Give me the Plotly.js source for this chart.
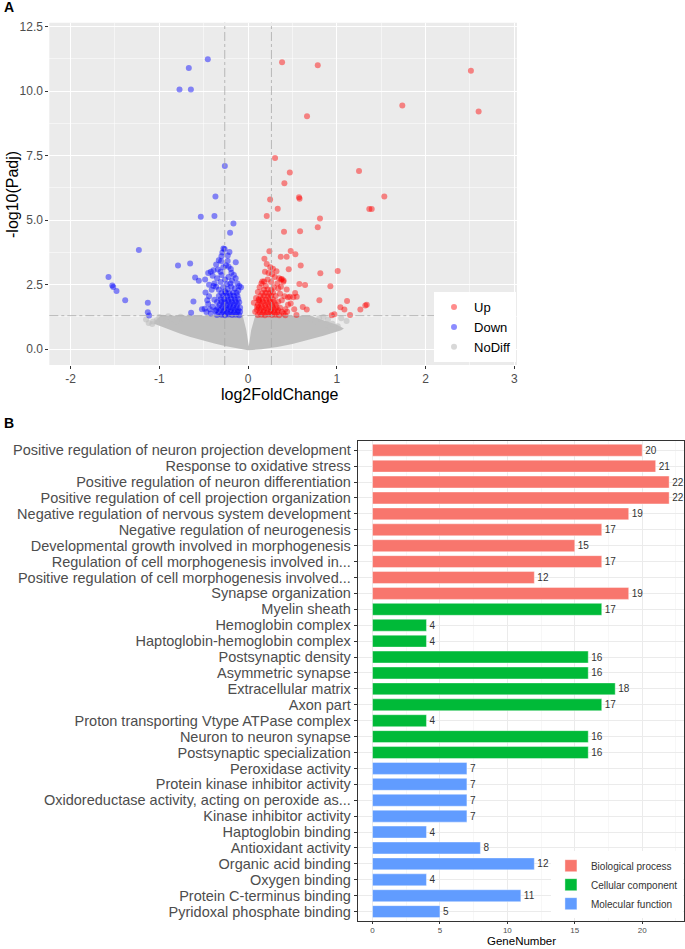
<!DOCTYPE html>
<html>
<head>
<meta charset="utf-8">
<script src="https://cdn.plot.ly/plotly-3.0.1.min.js"></script>
<style>html,body{margin:0;padding:0;background:#fff;}#chart{width:685px;height:949px;}</style>
</head>
<body>
<div id="chart"></div>
<script>
// ---------- Panel A: volcano data (log2FoldChange, -log10(Padj)) ----------
const upPoints = [
  [0.383,11.12],[0.785,11.0],[0.664,9.03],[2.511,10.79],[1.738,9.44],[2.598,9.21],[0.304,7.41],[0.47,6.85],
  [0.409,6.43],[0.574,5.89],[0.58,5.83],[0.248,5.80],[1.25,6.90],[1.535,5.92],[1.366,5.43],[1.393,5.43],
  [0.81,5.06],[0.785,4.73],[0.334,5.44],[0.21,5.16],[0.405,4.55],[0.586,4.57],[1.01,3.03],[0.814,2.94],
  [0.642,2.49],[0.927,2.44],[0.578,2.53],[0.803,1.90],[1.115,1.87],[0.616,1.64],[0.661,1.54],[1.04,1.63],
  [1.085,1.54],[1.265,1.54],[1.321,1.69],[1.337,1.72],[0.943,1.32],[0.972,1.36],[1.149,1.33],
  [0.24,3.80],[0.48,3.81],[0.533,3.68],[0.184,3.51],[0.368,3.58],[0.435,3.58],[0.593,3.24],[0.458,3.10],
  [0.21,3.30],[0.25,3.18],[0.28,3.12],[0.19,3.0],[0.32,3.02],[0.27,2.90],[0.23,2.95],[0.30,2.80],
  [0.35,2.75],[0.22,2.70],[0.18,2.62],[0.26,2.60],[0.33,2.55],[0.15,2.55],[0.20,2.45],[0.29,2.40],
  [0.38,2.72],[0.40,2.66],[0.372,2.70],[0.398,2.61],[0.37,2.42],[0.435,2.31],[0.45,2.01],[0.51,2.01],
  [0.53,2.18],[0.47,2.03],[0.548,2.03],[0.48,1.77],[0.52,1.55],[0.545,1.33],[0.42,1.32],[0.065,1.80],
  [0.10,1.65],[0.08,1.45],[0.40,1.38],[0.42,1.55],[0.45,1.72],[0.44,1.45],[0.38,1.90],[0.41,2.05],
  [0.36,2.15],[0.34,2.35],[0.13,2.40],[0.11,2.22],[0.09,1.98],[0.16,2.62],[0.12,1.90],
  [0.11,1.33],[0.15,1.34],[0.19,1.32],[0.23,1.35],[0.27,1.33],[0.31,1.34],[0.35,1.32],
  [0.13,1.42],[0.17,1.43],[0.21,1.41],[0.25,1.44],[0.29,1.42],[0.33,1.43],[0.38,1.45],
  [0.10,1.52],[0.14,1.53],[0.18,1.51],[0.22,1.54],[0.26,1.52],[0.30,1.53],[0.34,1.51],
  [0.12,1.62],[0.16,1.63],[0.20,1.61],[0.24,1.64],[0.28,1.62],[0.32,1.63],[0.36,1.61],
  [0.11,1.72],[0.15,1.73],[0.19,1.71],[0.23,1.74],[0.27,1.72],[0.31,1.73],
  [0.13,1.83],[0.17,1.84],[0.21,1.82],[0.25,1.85],[0.29,1.83],[0.34,1.84],
  [0.12,1.94],[0.16,1.95],[0.20,1.93],[0.24,1.96],[0.28,1.94],
  [0.14,2.06],[0.18,2.07],[0.22,2.05],[0.26,2.08],[0.31,2.06],
  [0.16,2.18],[0.20,2.19],[0.24,2.17],[0.28,2.20],
  [0.18,2.30],[0.22,2.31],[0.26,2.29]
];
const downPoints = [
  [-0.454,11.23],[-0.668,10.89],[-0.773,10.06],[-0.645,10.06],[-0.262,7.10],[-0.368,5.92],[-0.533,5.13],
  [-0.379,5.16],[-0.165,4.87],[-0.203,4.51],[-1.573,2.80],[-1.53,2.47],[-1.52,2.41],[-1.483,2.26],
  [-1.385,1.90],[-1.231,3.84],[-1.13,1.80],[-1.13,1.43],[-1.115,1.31],[-0.79,3.24],[-0.653,3.32],
  [-0.597,2.78],[-0.555,2.65],[-0.484,2.70],[-0.616,1.85],[-0.642,1.41],
  [-0.278,3.90],[-0.265,3.88],[-0.29,3.75],[-0.21,3.77],[-0.229,3.63],[-0.30,3.60],[-0.304,3.41],
  [-0.139,3.37],[-0.195,3.11],[-0.39,3.06],[-0.34,3.09],[-0.188,2.96],[-0.33,3.45],[-0.36,3.28],
  [-0.25,3.25],[-0.42,3.0],[-0.28,3.18],[-0.23,3.42],[-0.31,3.0],[-0.22,3.2],
  [-0.45,2.95],[-0.40,2.85],[-0.35,2.75],[-0.30,2.88],[-0.26,2.70],[-0.22,2.80],[-0.18,2.65],
  [-0.14,2.75],[-0.12,2.55],[-0.20,2.55],[-0.31,2.60],[-0.38,2.55],[-0.44,2.50],[-0.10,2.45],
  [-0.24,2.52],[-0.16,2.88],[-0.28,2.40],[-0.33,2.30],[-0.19,2.42],[-0.15,2.35],[-0.11,2.28],
  [-0.23,2.33],[-0.08,2.40],[-0.36,2.42],[-0.26,2.25],
  [-0.52,1.55],[-0.49,1.57],[-0.47,1.44],[-0.45,1.75],[-0.42,1.38],[-0.40,1.65],[-0.38,1.92],
  [-0.44,2.05],[-0.41,2.30],[-0.48,2.20],[-0.39,2.45],[-0.37,1.48],[-0.43,1.55],[-0.46,1.90],
  [-0.35,1.33],[-0.30,1.34],[-0.26,1.32],[-0.22,1.35],[-0.18,1.33],[-0.14,1.34],[-0.10,1.32],
  [-0.33,1.42],[-0.28,1.43],[-0.24,1.41],[-0.20,1.44],[-0.16,1.42],[-0.12,1.43],[-0.09,1.45],
  [-0.36,1.52],[-0.31,1.53],[-0.27,1.51],[-0.23,1.54],[-0.19,1.52],[-0.15,1.53],[-0.11,1.51],
  [-0.34,1.62],[-0.29,1.63],[-0.25,1.61],[-0.21,1.64],[-0.17,1.62],[-0.13,1.63],[-0.09,1.61],
  [-0.32,1.72],[-0.28,1.73],[-0.24,1.71],[-0.20,1.74],[-0.16,1.72],[-0.12,1.73],
  [-0.35,1.83],[-0.30,1.84],[-0.26,1.82],[-0.22,1.85],[-0.18,1.83],[-0.14,1.84],[-0.10,1.82],
  [-0.31,1.94],[-0.27,1.95],[-0.23,1.93],[-0.19,1.96],[-0.15,1.94],[-0.11,1.95],
  [-0.33,2.06],[-0.28,2.07],[-0.24,2.05],[-0.20,2.08],[-0.16,2.06],[-0.12,2.07],
  [-0.30,2.18],[-0.25,2.19],[-0.21,2.17],[-0.17,2.20],[-0.13,2.18]
];
const noDiffPoints = [
  [-1.12,1.02],[-1.08,0.98],[-1.03,1.12],[-0.96,1.22],[-0.92,1.05],[-0.86,1.2],[-0.81,1.08],[-0.76,1.26],
  [-1.15,1.15],[-0.72,1.18],[-1.0,1.25],[-0.9,1.28],[-0.66,1.25],[-1.07,1.07],[-0.98,1.16],
  [0.71,1.19],[0.89,0.97],[0.93,0.86],[1.01,0.89],[1.11,1.09],[0.95,0.99],[0.80,1.20],[0.76,1.08],
  [0.85,1.25],[1.05,1.2],[0.9,1.15]
];
// outline of the dense, overplotted NoDiff cloud
const noDiffCloud = [
  [-0.98,1.3],[-0.06,1.3],[-0.02,0.74],[0.008,0.12],[0.034,0.74],[0.08,1.3],[0.70,1.3],[0.85,1.12],
  [1.0,0.95],[1.08,0.80],[1.05,0.74],[0.85,0.52],[0.67,0.35],[0.5,0.2],[0.33,0.09],[0.15,0.0],
  [0.0,-0.04],[-0.12,0.03],[-0.25,0.12],[-0.38,0.22],[-0.52,0.34],[-0.66,0.48],[-0.77,0.61],
  [-0.87,0.74],[-0.97,0.87],[-1.06,0.99],[-1.05,1.1],[-0.98,1.3]
];
const fcThreshold = [-0.263, 0.263];
const padjThreshold = [1.301];
const volcanoXTicks = [-2,-1,0,1,2,3];
const volcanoXTickText = ['-2','-1','0','1','2','3'];
const volcanoYTicks = [0,2.5,5,7.5,10,12.5];
const volcanoYTickText = ['0.0','2.5','5.0','7.5','10.0','12.5'];

// ---------- Panel B: GO enrichment ----------
const bpTerms = ['Positive regulation of neuron projection development','Response to oxidative stress',
  'Positive regulation of neuron differentiation','Positive regulation of cell projection organization',
  'Negative regulation of nervous system development','Negative regulation of neurogenesis',
  'Developmental growth involved in morphogenesis','Regulation of cell morphogenesis involved in...',
  'Positive regulation of cell morphogenesis involved...','Synapse organization'];
const bpCounts = [20,21,22,22,19,17,15,17,12,19];
const ccTerms = ['Myelin sheath','Hemoglobin complex','Haptoglobin-hemoglobin complex','Postsynaptic density',
  'Asymmetric synapse','Extracellular matrix','Axon part','Proton transporting Vtype ATPase complex',
  'Neuron to neuron synapse','Postsynaptic specialization'];
const ccCounts = [17,4,4,16,16,18,17,4,16,16];
const mfTerms = ['Peroxidase activity','Protein kinase inhibitor activity','Oxidoreductase activity, acting on peroxide as...',
  'Kinase inhibitor activity','Haptoglobin binding','Antioxidant activity','Organic acid binding','Oxygen binding',
  'Protein C-terminus binding','Pyridoxal phosphate binding'];
const mfCounts = [7,7,7,7,4,8,12,4,11,5];
const geneTicks = [0,5,10,15,20];

const allTerms = bpTerms.concat(ccTerms, mfTerms);
const xs = a => a.map(p => p[0]);
const ys = a => a.map(p => p[1]);

const traces = [
  {type:'scatter', mode:'lines', x:xs(noDiffCloud), y:ys(noDiffCloud), fill:'toself',
   fillcolor:'#BEBEBE', line:{width:0, color:'#BEBEBE'}, showlegend:false, hoverinfo:'skip', xaxis:'x', yaxis:'y'},
  {type:'scatter', mode:'markers', name:'NoDiff', x:xs(noDiffPoints), y:ys(noDiffPoints),
   marker:{color:'#BEBEBE', size:6, opacity:0.6}, xaxis:'x', yaxis:'y', legend:'legend', legendrank:3},
  {type:'scatter', mode:'markers', name:'Down', x:xs(downPoints), y:ys(downPoints),
   marker:{color:'#0000FF', size:6, opacity:0.45}, xaxis:'x', yaxis:'y', legend:'legend', legendrank:2},
  {type:'scatter', mode:'markers', name:'Up', x:xs(upPoints), y:ys(upPoints),
   marker:{color:'#FF0000', size:6, opacity:0.45}, xaxis:'x', yaxis:'y', legend:'legend', legendrank:1}
];
function barTrace(name, terms, counts, color) {
  return {type:'bar', orientation:'h', name:name, x:counts, y:terms, xaxis:'x2', yaxis:'y2', legend:'legend2',
    width:0.75, marker:{color:color, line:{color:'rgba(255,255,255,0.4)', width:1}},
    text:counts.map(String), textposition:'outside', textfont:{size:10, color:'#333333'},
    cliponaxis:false, constraintext:'none', hoverinfo:'skip'};
}
traces.push(barTrace('Biological process', bpTerms, bpCounts, '#F8766D'));
traces.push(barTrace('Cellular component', ccTerms, ccCounts, '#00BA38'));
traces.push(barTrace('Molecular function', mfTerms, mfCounts, '#619CFF'));

const layout = {
  width:685, height:949, margin:{l:0, r:0, t:0, b:0},
  paper_bgcolor:'white', plot_bgcolor:'white',
  font:{family:'"Liberation Sans", Arial, sans-serif', color:'#4D4D4D'},
  barmode:'overlay', showlegend:true,
  xaxis:{domain:[0.0720,0.7547], range:[-2.24,3.03], anchor:'y', tickvals:volcanoXTicks, ticktext:volcanoXTickText,
    showgrid:true, gridcolor:'white', gridwidth:1.1, zeroline:false, showline:false,
    ticks:'outside', ticklen:3, tickcolor:'#333333', tickwidth:1, tickfont:{size:12, color:'#4D4D4D'},
    minor:{dtick:0.5, showgrid:true, gridcolor:'white', gridwidth:0.5}},
  yaxis:{domain:[0.6154,0.9761], range:[-0.61,12.65], anchor:'x', tickvals:volcanoYTicks, ticktext:volcanoYTickText,
    showgrid:true, gridcolor:'white', gridwidth:1.1, zeroline:false, showline:false,
    ticks:'outside', ticklen:3, tickcolor:'#333333', tickwidth:1, tickfont:{size:12, color:'#4D4D4D'},
    minor:{dtick:1.25, showgrid:true, gridcolor:'white', gridwidth:0.5}},
  xaxis2:{domain:[0.5222,0.9985], range:[-1.1,23.1], anchor:'y2', tickvals:geneTicks,
    showgrid:true, gridcolor:'#EBEBEB', gridwidth:1, zeroline:false,
    showline:true, mirror:true, linecolor:'#333333', linewidth:1,
    ticks:'outside', ticklen:2, tickcolor:'#333333', tickfont:{size:8, color:'#4D4D4D'},
    minor:{dtick:2.5, showgrid:true, gridcolor:'#F2F2F2', gridwidth:0.6}},
  yaxis2:{domain:[0.0300,0.5353], anchor:'x2', type:'category', categoryorder:'array', categoryarray:allTerms,
    tickmode:'array', tickvals:allTerms, ticktext:allTerms,
    range:[29.56,-0.58], showgrid:true, gridcolor:'#EBEBEB', gridwidth:1, zeroline:false,
    showline:true, mirror:true, linecolor:'#333333', linewidth:1,
    ticks:'outside', ticklen:3, tickcolor:'#333333', tickfont:{size:14.5, color:'#4D4D4D'}},
  legend:{x:0.7533, xanchor:'right', y:0.6185, yanchor:'bottom', bgcolor:'white', borderwidth:0,
    font:{size:13, color:'black'}, itemwidth:30, traceorder:'normal'},
  legend2:{x:0.997, xanchor:'right', y:0.0325, yanchor:'bottom', bgcolor:'white', borderwidth:0,
    font:{size:10, color:'#333333'}, itemwidth:30, traceorder:'normal'},
  shapes:[
    {type:'rect', xref:'x domain', yref:'y domain', x0:0, x1:1, y0:0, y1:1, fillcolor:'#EBEBEB', line:{width:0}, layer:'below'},
    {type:'line', xref:'x', yref:'y domain', x0:fcThreshold[0], x1:fcThreshold[0], y0:0, y1:1, line:{color:'#A8A8A8', width:0.8, dash:'dashdot'}, layer:'above'},
    {type:'line', xref:'x', yref:'y domain', x0:fcThreshold[1], x1:fcThreshold[1], y0:0, y1:1, line:{color:'#A8A8A8', width:0.8, dash:'dashdot'}, layer:'above'},
    {type:'line', xref:'x domain', yref:'y', x0:0, x1:1, y0:padjThreshold[0], y1:padjThreshold[0], line:{color:'#A8A8A8', width:0.8, dash:'dashdot'}, layer:'above'}
  ],
  annotations:[
    {text:'<b>A</b>', xref:'paper', yref:'paper', x:0.003, y:1-7/949, xanchor:'left', yanchor:'middle', showarrow:false, font:{size:14, color:'black'}},
    {text:'<b>B</b>', xref:'paper', yref:'paper', x:0.003, y:1-423/949, xanchor:'left', yanchor:'middle', showarrow:false, font:{size:14, color:'black'}},
    {text:'log2FoldChange', xref:'paper', yref:'paper', x:280/685, y:1-394/949, xanchor:'center', yanchor:'middle', showarrow:false, font:{size:16, color:'black'}},
    {text:'-log10(Padj)', xref:'paper', yref:'paper', x:13/685, y:1-195/949, xanchor:'center', yanchor:'middle', textangle:-90, showarrow:false, font:{size:16, color:'black'}},
    {text:'GeneNumber', xref:'paper', yref:'paper', x:521/685, y:0, xanchor:'center', yanchor:'bottom', showarrow:false, font:{size:11.5, color:'black'}}
  ]
};
Plotly.newPlot('chart', traces, layout, {displayModeBar:false, staticPlot:true});
</script>
</body>
</html>
